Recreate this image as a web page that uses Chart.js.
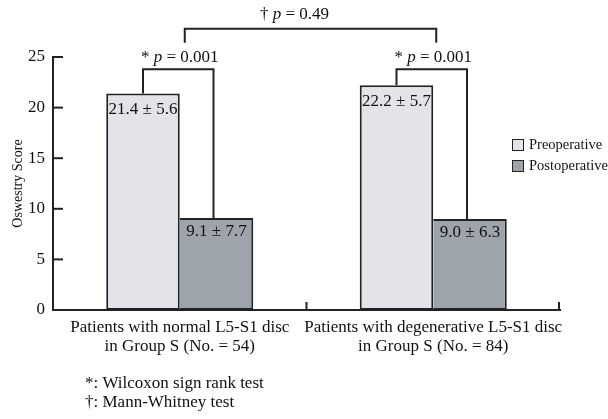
<!DOCTYPE html>
<html>
<head>
<meta charset="utf-8">
<script src="https://cdn.jsdelivr.net/npm/chart.js@4.4.0/dist/chart.umd.min.js"></script>
<style>
    html, body { margin: 0; padding: 0; background: #fff; }
    #wrap { width: 608px; height: 419px; position: relative; }
</style>
</head>
<body>
<div id="wrap"><canvas id="chart"></canvas></div>
<script>
const categories = [
    ['Patients with normal L5-S1 disc', 'in Group S (No. = 54)'],
    ['Patients with degenerative L5-S1 disc', 'in Group S (No. = 84)']
];
const preMean = [21.4, 22.2];
const preSd = [5.6, 5.7];
const postMean = [9.1, 9.0];
const postSd = [7.7, 6.3];
const yTicks = [0, 5, 10, 15, 20, 25];
const pairP = ['0.001', '0.001'];
const groupP = '0.49';
const footnotes = ['*: Wilcoxon sign rank test', '\u2020: Mann-Whitney test'];

const FONT = '"Liberation Serif", "Times New Roman", serif';
const INK = '#222';

// draw text made of [string, italic] parts, centred on x
function drawParts(ctx, parts, x, y, size) {
    let widths = parts.map(p => {
        ctx.font = (p[1] ? 'italic ' : '') + size + 'px ' + FONT;
        return ctx.measureText(p[0]).width;
    });
    let total = widths.reduce((a, b) => a + b, 0);
    let cx = x - total / 2;
    ctx.textAlign = 'left';
    ctx.textBaseline = 'middle';
    parts.forEach((p, i) => {
        ctx.font = (p[1] ? 'italic ' : '') + size + 'px ' + FONT;
        ctx.fillText(p[0], cx, y);
        cx += widths[i];
    });
}

const annotations = {
    id: 'annotations',
    afterDraw(chart) {
        const ctx = chart.ctx;
        const area = chart.chartArea;
        const xs = chart.scales.x;
        const ys = chart.scales.y;
        const pre = chart.getDatasetMeta(0).data;
        const post = chart.getDatasetMeta(1).data;
        ctx.save();
        ctx.strokeStyle = INK;
        ctx.fillStyle = '#111';
        ctx.lineWidth = 2;

        // inward tick marks on y axis
        yTicks.forEach(v => {
            const py = ys.getPixelForValue(v);
            ctx.beginPath();
            ctx.moveTo(area.left, py);
            ctx.lineTo(area.left + 10, py);
            ctx.stroke();
        });
        // upward ticks on x axis at category boundaries
        const mid = (xs.getPixelForValue(0) + xs.getPixelForValue(1)) / 2;
        [mid, area.right - 1].forEach(px => {
            ctx.beginPath();
            ctx.moveTo(px, area.bottom);
            ctx.lineTo(px, area.bottom - 8);
            ctx.stroke();
        });

        // value labels inside bars
        ctx.textAlign = 'center';
        ctx.textBaseline = 'middle';
        ctx.font = '17px ' + FONT;
        pre.forEach((b, i) => {
            ctx.fillText(preMean[i].toFixed(1) + ' \u00b1 ' + preSd[i].toFixed(1), b.x, b.y + 16);
        });
        post.forEach((b, i) => {
            ctx.fillText(postMean[i].toFixed(1) + ' \u00b1 ' + postSd[i].toFixed(1), b.x, b.y + 14);
        });

        // pre vs post brackets
        const by = ys.getPixelForValue(23.8);
        pre.forEach((b, i) => {
            const a = post[i];
            ctx.beginPath();
            ctx.moveTo(b.x, b.y);
            ctx.lineTo(b.x, by);
            ctx.lineTo(a.x - 3, by);
            ctx.lineTo(a.x - 3, a.y);
            ctx.stroke();
            drawParts(ctx, [['* ', false], ['p', true], [' = ' + pairP[i], false]],
                xs.getPixelForValue(i), by - 12, 17);
        });

        // between-group bracket
        const lx = xs.getPixelForValue(0) + 5;
        const rx = xs.getPixelForValue(1) + 3;
        const legY = ys.getPixelForValue(26.4);
        const topY = ys.getPixelForValue(27.8);
        ctx.beginPath();
        ctx.moveTo(lx, legY);
        ctx.lineTo(lx, topY);
        ctx.lineTo(rx, topY);
        ctx.lineTo(rx, legY);
        ctx.stroke();
        drawParts(ctx, [['\u2020 ', false], ['p', true], [' = ' + groupP, false]],
            (lx + rx) / 2 - 16, topY - 14, 17);

        // legend
        ctx.lineWidth = 1;
        ctx.font = '14.5px ' + FONT;
        ctx.textAlign = 'left';
        ctx.textBaseline = 'middle';
        chart.data.datasets.forEach((ds, i) => {
            const ly = 145 + i * 21;
            ctx.fillStyle = ds.backgroundColor;
            ctx.fillRect(512.5, ly - 5.5, 11, 11);
            ctx.strokeStyle = INK;
            ctx.strokeRect(512.5, ly - 5.5, 11, 11);
            ctx.fillStyle = '#111';
            ctx.fillText(ds.label, 529, ly);
        });

        // footnotes
        ctx.font = '17px ' + FONT;
        footnotes.forEach((t, i) => {
            ctx.fillText(t, 85, 384 + i * 19);
        });
        ctx.restore();
    }
};

new Chart(document.getElementById('chart'), {
    type: 'bar',
    data: {
        labels: categories,
        datasets: [
            {
                label: 'Preoperative',
                data: preMean,
                backgroundColor: '#e3e4e9',
                borderColor: INK,
                borderWidth: 2,
                borderSkipped: false
            },
            {
                label: 'Postoperative',
                data: postMean,
                backgroundColor: '#9ea4ab',
                borderColor: INK,
                borderWidth: 2,
                borderSkipped: 'left'
            }
        ]
    },
    plugins: [annotations],
    options: {
        responsive: true,
        maintainAspectRatio: false,
        animation: false,
        layout: { padding: { top: 57, right: 48, left: 0, bottom: 0 } },
        datasets: {
            bar: { categoryPercentage: 0.58, barPercentage: 1 }
        },
        plugins: {
            legend: { display: false },
            tooltip: { enabled: false }
        },
        scales: {
            x: {
                grid: { display: false, drawTicks: false },
                border: { display: true, color: INK, width: 2 },
                ticks: {
                    color: '#111',
                    padding: 8,
                    maxRotation: 0,
                    minRotation: 0,
                    autoSkip: false,
                    font: { family: FONT, size: 17, lineHeight: 1.1 }
                },
                afterFit: s => { s.height = 109; }
            },
            y: {
                min: 0,
                max: 25,
                afterBuildTicks: s => { s.ticks = yTicks.map(v => ({ value: v })); },
                grid: { display: false, drawTicks: false },
                border: { display: true, color: INK, width: 2 },
                ticks: {
                    color: '#111',
                    padding: 8,
                    font: { family: FONT, size: 17 }
                },
                title: {
                    display: true,
                    text: 'Oswestry Score',
                    color: '#111',
                    padding: { top: 10, bottom: 0 },
                    font: { family: FONT, size: 14 }
                },
                afterFit: s => { s.width = 53; }
            }
        }
    }
});
</script>
</body>
</html>
